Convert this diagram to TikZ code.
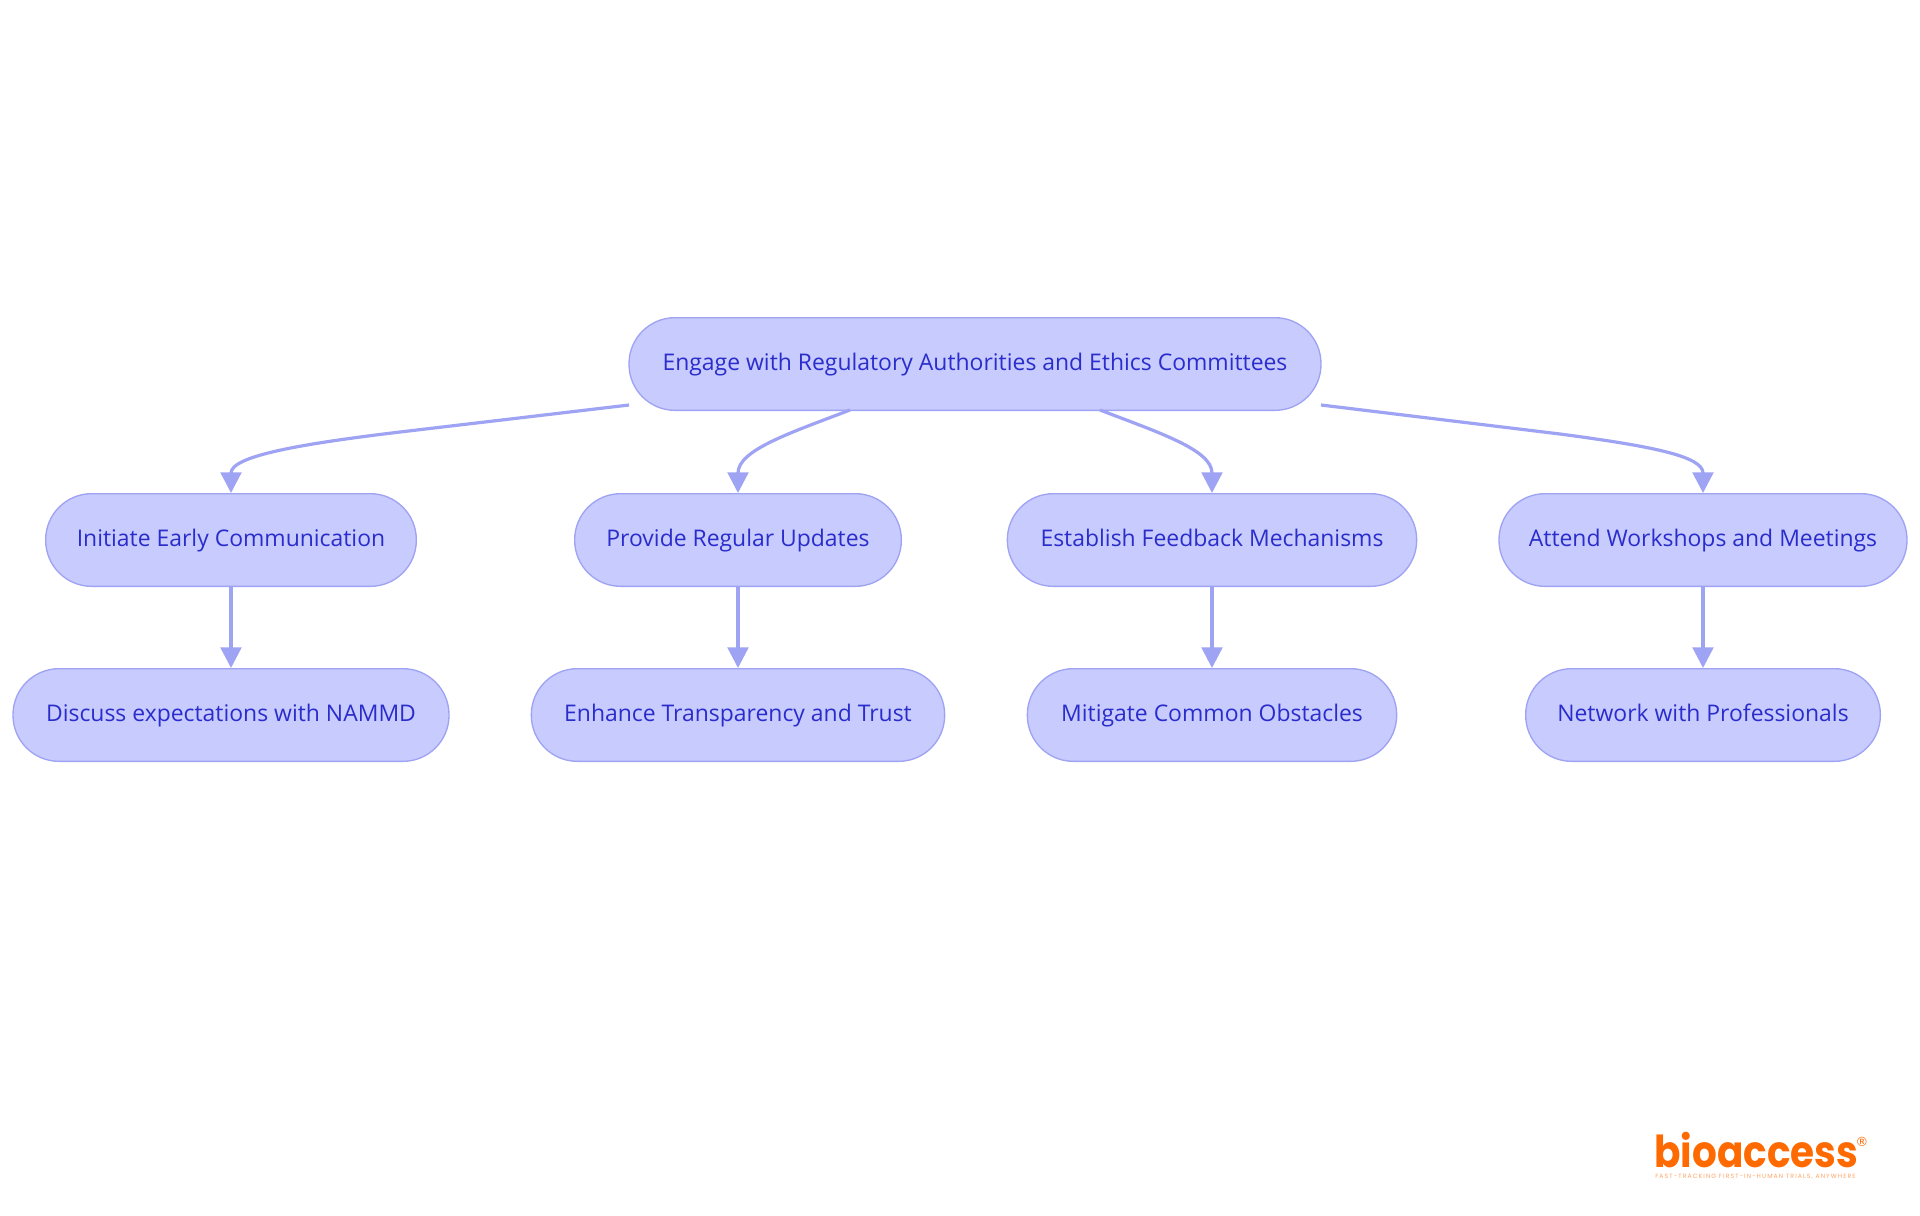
\documentclass[tikz,border=0pt]{standalone}
\usepackage{fontspec}
\usepackage{graphicx}
\setmainfont{Open Sans}
\newfontfamily\logofont{Poppins}
\newfontfamily\tagfont[LetterSpace=18]{Poppins}
\newfontfamily\regfont{DejaVu Sans}
\usetikzlibrary{arrows.meta}
\definecolor{pillfill}{HTML}{C8CBFD}
\definecolor{pillline}{HTML}{9FA3F3}
\definecolor{pilltext}{HTML}{2A2DCB}
\definecolor{logoorange}{HTML}{FF6A00}
\tikzset{
 pill/.style={draw=pillline,fill=pillfill,line width=1pt,rounded corners=34.5pt,minimum height=69.5pt,inner sep=0pt,text height=12.5pt,text depth=3.5pt,text=pilltext,font=\fontsize{17.2pt}{20pt}\selectfont},
 link/.style={draw=pillline,line width=2.4pt,-{Triangle[length=15.5pt,width=15.5pt]}}
}
\begin{document}
\begin{tikzpicture}[x=0.75pt,y=-0.75pt]
\useasboundingbox (0,0) rectangle (1920,1215);
\fill[white] (0,0) rectangle (1920,1215);
\node[pill,minimum width=519pt] (root) at (975,364) {Engage with Regulatory Authorities and Ethics Committees};
\node[pill,minimum width=278pt] (a1) at (231,540) {Initiate Early Communication};
\node[pill,minimum width=245pt] (a2) at (738,540) {Provide Regular Updates};
\node[pill,minimum width=307pt] (a3) at (1212,540) {Establish Feedback Mechanisms};
\node[pill,minimum width=306pt] (a4) at (1703,540) {Attend Workshops and Meetings};
\node[pill,minimum width=327pt] (b1) at (231,715) {Discuss expectations with NAMMD};
\node[pill,minimum width=310pt] (b2) at (738,715) {Enhance Transparency and Trust};
\node[pill,minimum width=277pt] (b3) at (1212,715) {Mitigate Common Obstacles};
\node[pill,minimum width=266pt] (b4) at (1703,715) {Network with Professionals};
\coordinate (s1) at (629,405);
\coordinate (s2) at (850,410);
\coordinate (s3) at (1100,410);
\coordinate (s4) at (1321,405);
\draw[link] (s1) -- (400,432) .. controls (300,444) and (231,456) .. (a1.north);
\draw[link] (s2) .. controls (790,433) and (738,450) .. (a2.north);
\draw[link] (s3) .. controls (1160,433) and (1212,450) .. (a3.north);
\draw[link] (s4) -- (1560,434) .. controls (1650,446) and (1703,456) .. (a4.north);
\draw[link] (a1) -- (b1);
\draw[link] (a2) -- (b2);
\draw[link] (a3) -- (b3);
\draw[link] (a4) -- (b4);
\node[text=logoorange,font=\logofont\bfseries\fontsize{33pt}{35pt}\selectfont,inner sep=0pt,anchor=base west] (logo) at (1654,1167) {\scalebox{0.885}[1]{bioaccess}};
\node[text=logoorange,font=\regfont\fontsize{9.5pt}{10pt}\selectfont,inner sep=0pt] (reg) at (1862,1142) {®};
\node[text=logoorange!60,font=\tagfont\fontsize{4.6pt}{5pt}\selectfont,inner sep=0pt,anchor=west] (tag) at (1655,1177) {FAST-TRACKING FIRST-IN-HUMAN TRIALS, ANYWHERE};
\end{tikzpicture}
\end{document}
